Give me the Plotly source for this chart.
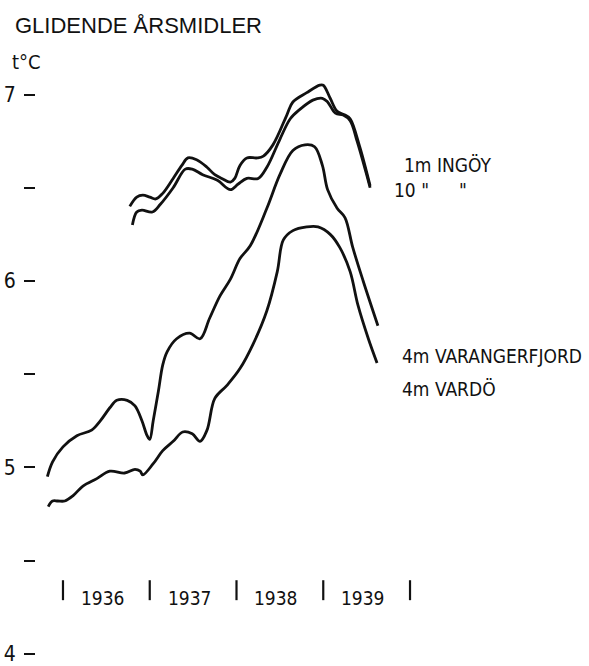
import plotly.graph_objects as go

# Gliding annual means of sea temperature (°C), x in decimal years
ingoy_1m_x = [1936.77, 1936.85, 1936.92, 1937.00, 1937.07, 1937.15, 1937.27, 1937.37,
              1937.44, 1937.54, 1937.66, 1937.75, 1937.83, 1937.93, 1937.98, 1938.04,
              1938.12, 1938.24, 1938.31, 1938.42, 1938.58, 1938.65, 1938.81, 1938.96,
              1939.00, 1939.08, 1939.16, 1939.25, 1939.31, 1939.42, 1939.54]
ingoy_1m_y = [6.40, 6.45, 6.46, 6.45, 6.44, 6.47, 6.55, 6.62,
              6.66, 6.65, 6.61, 6.57, 6.55, 6.53, 6.55, 6.62,
              6.66, 6.66, 6.67, 6.73, 6.89, 6.96, 7.01, 7.05,
              7.05, 6.98, 6.91, 6.89, 6.87, 6.72, 6.51]

ingoy_10m_x = [1936.80, 1936.85, 1936.91, 1937.03, 1937.12, 1937.27, 1937.41, 1937.49,
               1937.61, 1937.78, 1937.93, 1938.02, 1938.12, 1938.25, 1938.35, 1938.50,
               1938.62, 1938.73, 1938.88, 1938.99, 1939.05, 1939.14, 1939.23, 1939.31,
               1939.39, 1939.50, 1939.54]
ingoy_10m_y = [6.30, 6.37, 6.38, 6.37, 6.41, 6.50, 6.60, 6.60,
               6.57, 6.54, 6.49, 6.52, 6.55, 6.55, 6.61, 6.76,
               6.87, 6.92, 6.97, 6.98, 6.96, 6.90, 6.89, 6.86,
               6.75, 6.57, 6.50]

varanger_x = [1935.82, 1935.88, 1936.00, 1936.16, 1936.33, 1936.43, 1936.54, 1936.62,
              1936.74, 1936.83, 1936.91, 1936.97, 1937.00, 1937.04, 1937.10, 1937.15,
              1937.20, 1937.31, 1937.46, 1937.58, 1937.69, 1937.81, 1937.93, 1938.04,
              1938.16, 1938.35, 1938.50, 1938.65, 1938.79, 1938.90, 1938.99, 1939.05,
              1939.16, 1939.25, 1939.34, 1939.46, 1939.63]
varanger_y = [4.95, 5.03, 5.11, 5.17, 5.20, 5.25, 5.32, 5.36,
              5.36, 5.33, 5.25, 5.17, 5.15, 5.25, 5.41, 5.55,
              5.62, 5.69, 5.72, 5.69, 5.80, 5.92, 6.01, 6.12,
              6.19, 6.39, 6.57, 6.70, 6.73, 6.72, 6.62, 6.49,
              6.39, 6.34, 6.18, 6.00, 5.76]

vardo_x = [1935.83, 1935.88, 1935.94, 1936.02, 1936.12, 1936.23, 1936.39, 1936.54,
           1936.71, 1936.83, 1936.89, 1936.92, 1937.04, 1937.15, 1937.27, 1937.38,
           1937.49, 1937.58, 1937.66, 1937.75, 1937.89, 1938.04, 1938.19, 1938.35,
           1938.47, 1938.54, 1938.65, 1938.81, 1938.94, 1939.08, 1939.19, 1939.31,
           1939.40, 1939.52, 1939.62]
vardo_y = [4.79, 4.82, 4.82, 4.82, 4.85, 4.90, 4.94, 4.98,
           4.97, 4.99, 4.98, 4.96, 5.02, 5.09, 5.14, 5.19,
           5.18, 5.14, 5.20, 5.37, 5.44, 5.53, 5.66, 5.84,
           6.05, 6.22, 6.27, 6.29, 6.29, 6.25, 6.18, 6.05,
           5.87, 5.69, 5.56]

year_bounds = [1936, 1937, 1938, 1939, 1940]
year_labels = ["1936", "1937", "1938", "1939"]
y_ticks = [4, 4.5, 5, 5.5, 6, 6.5, 7]
y_tick_text = ["4", "", "5", "", "6", "", "7"]

INK = "#111111"
NARROW = "Liberation Sans Narrow, DejaVu Sans Condensed, Arial Narrow, sans-serif"
PLAIN = "Liberation Sans, Arial, sans-serif"

fig = go.Figure()

for xs, ys in [(ingoy_1m_x, ingoy_1m_y), (ingoy_10m_x, ingoy_10m_y),
               (varanger_x, varanger_y), (vardo_x, vardo_y)]:
    fig.add_trace(go.Scatter(
        x=xs, y=ys, mode="lines",
        line=dict(color=INK, width=2.8, shape="spline", smoothing=1.0),
        hoverinfo="skip", showlegend=False,
    ))

# year separators on the time scale
sep_x, sep_y = [], []
for b in year_bounds:
    sep_x += [b, b, None]
    sep_y += [4.288, 4.395, None]
fig.add_trace(go.Scatter(x=sep_x, y=sep_y, mode="lines",
                         line=dict(color=INK, width=2.2),
                         hoverinfo="skip", showlegend=False))

annotations = []
for i, lab in enumerate(year_labels):
    annotations.append(dict(x=year_bounds[i] + 0.46, y=4.30, xref="x", yref="y",
                            text=lab, showarrow=False, xanchor="center", yanchor="middle",
                            font=dict(family=NARROW, size=19, color=INK)))

series_labels = [
    ("1m INGÖY", 1939.91, 6.62),
    ("10 \"", 1939.79, 6.49),
    ("\"", 1940.54, 6.49),
    ("4m VARANGERFJORD", 1939.88, 5.60),
    ("4m VARDÖ", 1939.88, 5.42),
]
for txt, x, y in series_labels:
    annotations.append(dict(x=x, y=y, xref="x", yref="y", text=txt, showarrow=False,
                            xanchor="left", yanchor="middle",
                            font=dict(family=NARROW, size=19, color=INK)))

annotations.append(dict(x=-0.047, y=1 - 62 / 666, xref="paper", yref="paper",
                        text="t°C", showarrow=False, xanchor="left", yanchor="middle",
                        font=dict(family=NARROW, size=20, color=INK)))

fig.update_layout(
    width=589, height=666,
    margin=dict(l=36, r=0, t=0, b=0),
    paper_bgcolor="white", plot_bgcolor="white",
    title=dict(text="GLIDENDE ÅRSMIDLER", xref="container", yref="container",
               x=15 / 589, y=1 - 25 / 666, xanchor="left", yanchor="middle",
               font=dict(family=PLAIN, size=22, color=INK)),
    xaxis=dict(range=[1935.689, 1942.063], visible=False, fixedrange=True),
    yaxis=dict(range=[3.951, 7.507], tickmode="array", tickvals=y_ticks,
               ticktext=y_tick_text, ticks="outside", ticklen=11, tickwidth=2,
               tickcolor=INK, showgrid=False, zeroline=False, showline=False,
               ticklabelstandoff=4, ticklabeloverflow="allow",
               tickfont=dict(family=NARROW, size=21, color=INK), fixedrange=True),
    annotations=annotations,
    showlegend=False,
)

fig.write_html("out.html")
